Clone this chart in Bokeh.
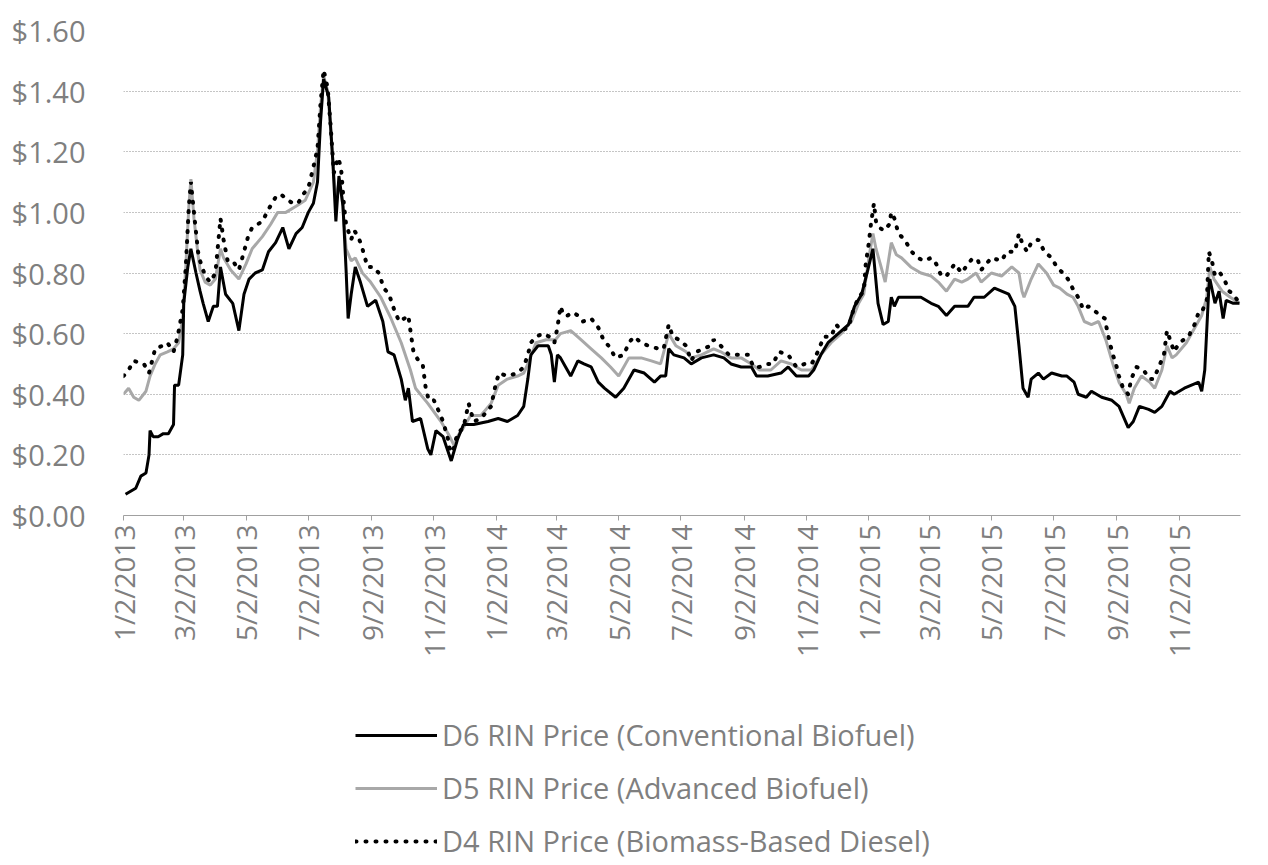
import math
import pandas as pd
from bokeh.plotting import figure
from bokeh.layouts import column
from bokeh.models import (Range1d, FixedTicker, NumeralTickFormatter, CustomJSTickFormatter,
                          Legend, LegendItem)
from bokeh.embed import file_html
from bokeh.resources import INLINE

BASE_DATE = "2013-01-02"   # day 0 of the day offsets below

# D6 RIN Price (Conventional Biofuel)
d6_day = [2, 7, 12, 17, 22, 25, 26, 29, 34, 39, 44, 49, 50, 54, 58, 59, 63, 66, 71, 75,
          78, 83, 88, 92, 95, 100, 107, 113, 118, 123, 129, 136, 142, 149, 156, 162, 169, 175, 181, 186,
          190, 193, 196, 201, 205, 208, 211, 215, 218, 220, 223, 227, 232, 239, 247, 254, 259, 265, 272, 276,
          279, 283, 291, 298, 301, 306, 313, 321, 327, 333, 343, 357, 367, 376, 386, 392, 396, 399, 406, 416,
          419, 422, 425, 428, 433, 438, 445, 451, 458, 465, 471, 482, 490, 500, 510, 520, 526, 531, 534, 539,
          549, 556, 566, 578, 588, 595, 605, 615, 620, 631, 644, 651, 659, 671, 676, 683, 690, 700, 710, 716,
          723, 729, 734, 739, 744, 749, 752, 755, 759, 769, 781, 791, 798, 806, 814, 827, 833, 843, 853, 867,
          873, 877, 881, 886, 889, 896, 901, 909, 919, 924, 931, 935, 943, 948, 958, 968, 975, 984, 989, 995,
          1004, 1010, 1017, 1025, 1029, 1039, 1053, 1056, 1059, 1063, 1064, 1069, 1073, 1077, 1080, 1087, 1093]
d6_price = [0.07, 0.08, 0.09, 0.13, 0.14, 0.20, 0.28, 0.26, 0.26, 0.27, 0.27, 0.30, 0.43, 0.43, 0.53, 0.70, 0.82, 0.88, 0.80, 0.74,
            0.70, 0.64, 0.69, 0.69, 0.82, 0.73, 0.70, 0.61, 0.73, 0.78, 0.80, 0.81, 0.87, 0.90, 0.95, 0.88, 0.93, 0.95, 1.00, 1.03,
            1.10, 1.30, 1.44, 1.38, 1.17, 0.97, 1.12, 1.02, 0.81, 0.65, 0.73, 0.82, 0.77, 0.69, 0.71, 0.64, 0.54, 0.53, 0.45, 0.38,
            0.42, 0.31, 0.32, 0.22, 0.20, 0.28, 0.26, 0.18, 0.25, 0.30, 0.30, 0.31, 0.32, 0.31, 0.33, 0.36, 0.45, 0.53, 0.56, 0.56,
            0.53, 0.44, 0.53, 0.52, 0.49, 0.46, 0.51, 0.50, 0.49, 0.44, 0.42, 0.39, 0.42, 0.48, 0.47, 0.44, 0.46, 0.46, 0.55, 0.53,
            0.52, 0.50, 0.52, 0.53, 0.52, 0.50, 0.49, 0.49, 0.46, 0.46, 0.47, 0.49, 0.46, 0.46, 0.48, 0.53, 0.57, 0.60, 0.63, 0.69,
            0.73, 0.81, 0.88, 0.70, 0.63, 0.64, 0.72, 0.69, 0.72, 0.72, 0.72, 0.70, 0.69, 0.66, 0.69, 0.69, 0.72, 0.72, 0.75, 0.73,
            0.69, 0.56, 0.42, 0.39, 0.45, 0.47, 0.45, 0.47, 0.46, 0.46, 0.44, 0.40, 0.39, 0.41, 0.39, 0.38, 0.36, 0.29, 0.31, 0.36,
            0.35, 0.34, 0.36, 0.41, 0.40, 0.42, 0.44, 0.41, 0.48, 0.75, 0.78, 0.70, 0.74, 0.65, 0.71, 0.70, 0.70]

# D5 RIN Price (Advanced Biofuel)
d5_day = [0, 5, 10, 15, 22, 26, 31, 36, 43, 49, 54, 58, 61, 64, 66, 69, 73, 75, 80, 85,
          90, 95, 98, 105, 113, 120, 126, 136, 144, 151, 159, 169, 178, 186, 190, 193, 196, 200, 204, 208,
          211, 214, 218, 223, 227, 234, 242, 252, 262, 272, 281, 286, 298, 311, 318, 324, 327, 333, 340, 350,
          360, 367, 376, 386, 392, 396, 404, 414, 423, 428, 438, 448, 458, 468, 477, 485, 495, 507, 517, 526,
          534, 541, 551, 556, 566, 578, 585, 595, 605, 615, 623, 634, 644, 654, 664, 674, 683, 693, 703, 713,
          720, 725, 730, 734, 737, 742, 746, 752, 757, 762, 771, 781, 791, 798, 806, 814, 821, 827, 835, 840,
          850, 860, 870, 877, 880, 882, 889, 896, 904, 911, 917, 924, 930, 935, 941, 948, 955, 962, 969, 975,
          982, 985, 990, 997, 1005, 1010, 1017, 1022, 1027, 1031, 1041, 1051, 1056, 1061, 1064, 1068, 1076, 1084, 1093]
d5_price = [0.40, 0.42, 0.39, 0.38, 0.41, 0.46, 0.50, 0.53, 0.54, 0.55, 0.57, 0.65, 0.82, 1.02, 1.11, 0.98, 0.86, 0.81, 0.77, 0.76,
            0.78, 0.88, 0.85, 0.81, 0.78, 0.83, 0.88, 0.92, 0.96, 1.00, 1.00, 1.02, 1.04, 1.10, 1.20, 1.35, 1.45, 1.40, 1.22, 1.03,
            1.10, 1.05, 0.88, 0.84, 0.85, 0.80, 0.77, 0.72, 0.65, 0.57, 0.48, 0.42, 0.37, 0.31, 0.27, 0.23, 0.26, 0.29, 0.33, 0.33,
            0.37, 0.43, 0.45, 0.46, 0.47, 0.50, 0.57, 0.58, 0.58, 0.60, 0.61, 0.58, 0.55, 0.52, 0.49, 0.46, 0.52, 0.52, 0.51, 0.50,
            0.60, 0.56, 0.54, 0.52, 0.53, 0.55, 0.54, 0.52, 0.52, 0.50, 0.48, 0.48, 0.51, 0.50, 0.48, 0.48, 0.53, 0.57, 0.60, 0.64,
            0.70, 0.73, 0.85, 0.93, 0.88, 0.82, 0.77, 0.90, 0.86, 0.85, 0.82, 0.80, 0.79, 0.77, 0.74, 0.78, 0.77, 0.78, 0.80, 0.77,
            0.80, 0.79, 0.82, 0.80, 0.74, 0.72, 0.78, 0.83, 0.80, 0.76, 0.75, 0.73, 0.72, 0.69, 0.64, 0.63, 0.64, 0.58, 0.50, 0.44,
            0.40, 0.37, 0.42, 0.46, 0.44, 0.42, 0.48, 0.56, 0.52, 0.53, 0.57, 0.63, 0.66, 0.72, 0.82, 0.78, 0.74, 0.72, 0.70]

# D4 RIN Price (Biomass-Based Diesel)
d4_day = [0, 5, 10, 20, 25, 28, 31, 38, 43, 49, 53, 58, 61, 64, 66, 69, 73, 75, 80, 85,
          90, 95, 98, 102, 107, 113, 118, 122, 126, 136, 142, 149, 154, 161, 166, 171, 176, 181, 186, 190,
          193, 196, 200, 203, 206, 210, 213, 216, 218, 223, 226, 230, 234, 239, 245, 250, 255, 260, 265, 270,
          275, 279, 281, 284, 289, 293, 296, 299, 304, 308, 313, 318, 321, 327, 333, 338, 343, 350, 360, 365,
          368, 376, 386, 392, 396, 399, 404, 411, 417, 422, 425, 428, 431, 435, 440, 445, 450, 458, 465, 470,
          475, 482, 490, 495, 500, 507, 514, 524, 529, 534, 538, 544, 551, 556, 561, 568, 575, 578, 585, 593,
          602, 612, 617, 623, 631, 636, 642, 651, 659, 667, 674, 680, 686, 693, 698, 703, 710, 715, 720, 725,
          727, 730, 732, 735, 737, 740, 745, 750, 752, 755, 759, 765, 772, 778, 784, 791, 796, 801, 806, 814,
          821, 827, 832, 837, 840, 845, 850, 860, 865, 873, 877, 880, 885, 889, 896, 902, 909, 914, 920, 925,
          931, 935, 940, 945, 953, 961, 964, 966, 969, 972, 975, 979, 984, 987, 992, 999, 1005, 1009, 1014, 1019,
          1022, 1025, 1029, 1034, 1043, 1049, 1053, 1056, 1061, 1063, 1066, 1069, 1074, 1078, 1083, 1087, 1093]
d4_price = [0.46, 0.48, 0.51, 0.50, 0.47, 0.51, 0.55, 0.56, 0.57, 0.54, 0.59, 0.68, 0.82, 1.02, 1.10, 1.00, 0.87, 0.84, 0.79, 0.77,
            0.80, 0.98, 0.91, 0.84, 0.84, 0.81, 0.87, 0.92, 0.95, 0.97, 1.01, 1.05, 1.06, 1.04, 1.03, 1.03, 1.06, 1.08, 1.15, 1.21,
            1.36, 1.47, 1.41, 1.28, 1.13, 1.18, 1.15, 1.02, 0.96, 0.91, 0.94, 0.92, 0.88, 0.82, 0.82, 0.80, 0.75, 0.73, 0.68, 0.64,
            0.65, 0.66, 0.61, 0.54, 0.51, 0.50, 0.42, 0.38, 0.38, 0.35, 0.31, 0.25, 0.19, 0.27, 0.29, 0.37, 0.31, 0.32, 0.36, 0.44,
            0.47, 0.46, 0.47, 0.49, 0.53, 0.57, 0.59, 0.60, 0.59, 0.57, 0.62, 0.69, 0.66, 0.66, 0.67, 0.66, 0.64, 0.65, 0.62, 0.58,
            0.56, 0.52, 0.53, 0.57, 0.59, 0.57, 0.56, 0.55, 0.55, 0.63, 0.59, 0.58, 0.56, 0.51, 0.54, 0.55, 0.56, 0.58, 0.56, 0.53,
            0.53, 0.53, 0.49, 0.49, 0.50, 0.50, 0.54, 0.53, 0.49, 0.50, 0.50, 0.54, 0.59, 0.59, 0.63, 0.61, 0.62, 0.68, 0.72, 0.74,
            0.83, 0.90, 0.96, 1.03, 0.97, 0.95, 0.94, 0.96, 1.00, 0.98, 0.93, 0.91, 0.87, 0.85, 0.84, 0.85, 0.83, 0.79, 0.79, 0.83,
            0.80, 0.83, 0.85, 0.84, 0.81, 0.83, 0.85, 0.84, 0.87, 0.87, 0.93, 0.90, 0.87, 0.90, 0.91, 0.87, 0.85, 0.82, 0.80, 0.78,
            0.74, 0.72, 0.68, 0.69, 0.67, 0.65, 0.60, 0.57, 0.53, 0.50, 0.46, 0.42, 0.40, 0.45, 0.49, 0.48, 0.45, 0.45, 0.49, 0.53,
            0.61, 0.58, 0.54, 0.57, 0.59, 0.63, 0.67, 0.67, 0.71, 0.87, 0.84, 0.79, 0.80, 0.78, 0.74, 0.73, 0.70]

tick_dates = ["2013-01-02", "2013-03-02", "2013-05-02", "2013-07-02", "2013-09-02", "2013-11-02",
              "2014-01-02", "2014-03-02", "2014-05-02", "2014-07-02", "2014-09-02", "2014-11-02",
              "2015-01-02", "2015-03-02", "2015-05-02", "2015-07-02", "2015-09-02", "2015-11-02"]
y_ticks = [0.0, 0.2, 0.4, 0.6, 0.8, 1.0, 1.2, 1.4, 1.6]

labels = ["D6 RIN Price (Conventional Biofuel)",
          "D5 RIN Price (Advanced Biofuel)",
          "D4 RIN Price (Biomass-Based Diesel)"]


def to_dates(days):
    return pd.Timestamp(BASE_DATE) + pd.to_timedelta(days, unit="D")


FONT = "Open Sans"
TXT = "#7f7f7f"
STYLE6 = dict(line_color="black", line_width=3)
STYLE5 = dict(line_color="#a8a8a8", line_width=3)
STYLE4 = dict(line_color="black", line_width=4, line_dash="1 9", line_cap="round")

# ---------------- main chart ----------------
p = figure(width=1260, height=662, x_axis_type="datetime",
           output_backend="svg", toolbar_location=None,
           x_range=Range1d(pd.Timestamp("2013-01-02"), pd.Timestamp("2016-01-01")),
           y_range=Range1d(0, 1.6),
           min_border_left=123, min_border_right=20, min_border_top=30, min_border_bottom=147)
p.outline_line_color = None
p.background_fill_color = "white"

p.line(to_dates(d5_day), d5_price, **STYLE5)
p.line(to_dates(d6_day), d6_price, **STYLE6)
p.line(to_dates(d4_day), d4_price, **STYLE4)

xa = p.xaxis[0]
xa.ticker = FixedTicker(ticks=[pd.Timestamp(d).value // 10**6 for d in tick_dates])
xa.formatter = CustomJSTickFormatter(code="""
const d = new Date(tick);
return (d.getUTCMonth() + 1) + "/" + d.getUTCDate() + "/" + d.getUTCFullYear();
""")
xa.major_label_orientation = math.pi / 2
xa.major_label_text_font = FONT
xa.major_label_text_font_size = "28px"
xa.major_label_text_color = TXT
xa.major_label_standoff = 4
xa.axis_line_color = "#a0a0a0"
xa.major_tick_line_color = "#a0a0a0"
xa.major_tick_out = 5
xa.major_tick_in = 0
xa.minor_tick_line_color = None

ya = p.yaxis[0]
ya.ticker = FixedTicker(ticks=y_ticks)
ya.formatter = NumeralTickFormatter(format="$0.00")
ya.major_label_text_font = FONT
ya.major_label_text_font_size = "29px"
ya.major_label_text_color = TXT
ya.major_label_standoff = 32
ya.axis_line_color = None
ya.major_tick_line_color = None
ya.minor_tick_line_color = None

p.xgrid.visible = False
p.ygrid.grid_line_color = "#8a8a8a"
p.ygrid.grid_line_dash = "1 2"
p.ygrid.grid_line_width = 1

# ---------------- legend strip below ----------------
lg = figure(width=1260, height=198, output_backend="svg", toolbar_location=None,
            x_range=Range1d(0, 1), y_range=Range1d(0, 1),
            x_axis_location=None, y_axis_location=None,
            min_border_left=0, min_border_right=0, min_border_top=0, min_border_bottom=0)
lg.outline_line_color = None
lg.xgrid.visible = False
lg.ygrid.visible = False
# sample glyphs for the legend only (kept outside the visible range)
g6 = lg.line(x=[-2, -1], y=[-2, -2], **STYLE6)
g5 = lg.line(x=[-2, -1], y=[-2, -2], **STYLE5)
g4 = lg.line(x=[-2, -1], y=[-2, -2], **STYLE4)

legend = Legend(items=[LegendItem(label=labels[0], renderers=[g6]),
                       LegendItem(label=labels[1], renderers=[g5]),
                       LegendItem(label=labels[2], renderers=[g4])],
                location=(232, 0), orientation="vertical",
                label_text_font=FONT, label_text_font_size="29px", label_text_color=TXT,
                glyph_width=82, glyph_height=26, label_height=26, spacing=14,
                label_standoff=5, padding=0, margin=0,
                border_line_color=None, background_fill_alpha=0)
lg.add_layout(legend)

open("out.html", "w").write(file_html(column(p, lg, spacing=0), INLINE))
